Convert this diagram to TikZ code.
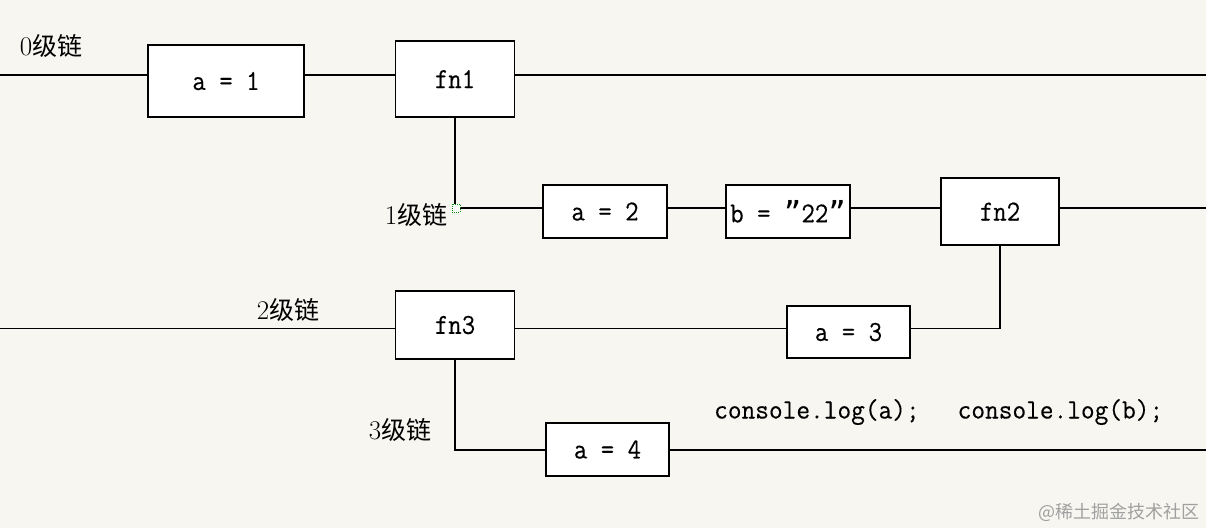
\documentclass[tikz,border=0pt]{standalone}
\usepackage{fontspec}
\setmonofont[FakeStretch=0.9,FakeBold=0.3]{Latin Modern Mono}
\newfontfamily\contt[FakeStretch=0.95,FakeBold=0.3]{Latin Modern Mono}
\newfontfamily\qfont{DejaVu Sans Mono}
\newfontfamily\cjk{Noto Sans CJK SC}
\definecolor{bgc}{HTML}{F7F6F1}
\definecolor{wmc}{HTML}{A0A0A0}
\newcommand{\lvltext}[1]{{\fontsize{27}{30}\selectfont\rmfamily #1}{\cjk 级链}}
\begin{document}
\begin{tikzpicture}[x=1pt,y=-1pt,
  box/.style={draw=black,fill=white,line width=1.8pt,inner sep=0pt,
    font=\fontsize{29}{31}\selectfont\ttfamily},
  wire/.style={draw=black,line width=1.8pt},
  lvl/.style={inner sep=0pt,font=\fontsize{25}{28}\selectfont}]
\fill[bgc] (0,0) rectangle (1206,528);
\useasboundingbox (0,0) rectangle (1206,528);
% boxes
\node[box,minimum width=156pt,minimum height=72pt] (a1) at (226,81) {a = 1};
\node[box,minimum width=119pt,minimum height=76pt] (fn1) at (455,79) {fn1};
\node[box,minimum width=124pt,minimum height=53pt] (a2) at (605,211.5) {a = 2};
\node[box,minimum width=124pt,minimum height=53pt] (b) at (788,211.5) {b = {\qfont ”}22{\qfont ”}};
\node[box,minimum width=118pt,minimum height=67pt] (fn2) at (1000,211.5) {fn2};
\node[box,minimum width=123pt,minimum height=52pt] (a3) at (848.5,332) {a = 3};
\node[box,minimum width=119pt,minimum height=68pt] (fn3) at (455,325) {fn3};
\node[box,minimum width=123pt,minimum height=53pt] (a4) at (607.5,449.5) {a = 4};
% row coordinates
\coordinate (L0) at (0,75);
\coordinate (R0) at (1206,75);
\coordinate (R1) at (1206,208);
\coordinate (L2) at (0,328.5);
\coordinate (R3) at (1206,450);
% connectors
\draw[wire] (L0) -- (L0 -| a1.west);
\draw[wire] (L0 -| a1.east) -- (L0 -| fn1.west);
\draw[wire] (L0 -| fn1.east) -- (R0);
\draw[wire] (fn1.south) |- (R1 -| a2.west);
\draw[wire] (R1 -| a2.east) -- (R1 -| b.west);
\draw[wire] (R1 -| b.east) -- (R1 -| fn2.west);
\draw[wire] (R1 -| fn2.east) -- (R1);
\draw[wire] (L2) -- (L2 -| fn3.west);
\draw[wire] (L2 -| fn3.east) -- (L2 -| a3.west);
\draw[wire] (L2 -| a3.east) -| (fn2.south);
\draw[wire] (fn3.south) |- (R3 -| a4.west);
\draw[wire] (R3 -| a4.east) -- (R3);
% selection handle
\node[draw=green!55!black,densely dotted,fill=white,line width=1pt,minimum size=8pt,inner sep=0pt] (h) at (456,208) {};
% level labels
\node[lvl] (l0) at (51,46) {\lvltext{0}};
\node[lvl] (l1) at (416,215) {\lvltext{1}};
\node[lvl] (l2) at (288,310) {\lvltext{2}};
\node[lvl] (l3) at (400,430) {\lvltext{3}};
% console text
\node[anchor=west,inner sep=0pt,font=\fontsize{28}{30}\selectfont\contt] (con) at (714,412) {console.log(a);\hspace{38pt}console.log(b);};
% watermark
\node[anchor=east,inner sep=0pt,text=wmc,font=\fontsize{18}{20}\selectfont\cjk] (wm) at (1200,512) {@稀土掘金技术社区};
\end{tikzpicture}
\end{document}
